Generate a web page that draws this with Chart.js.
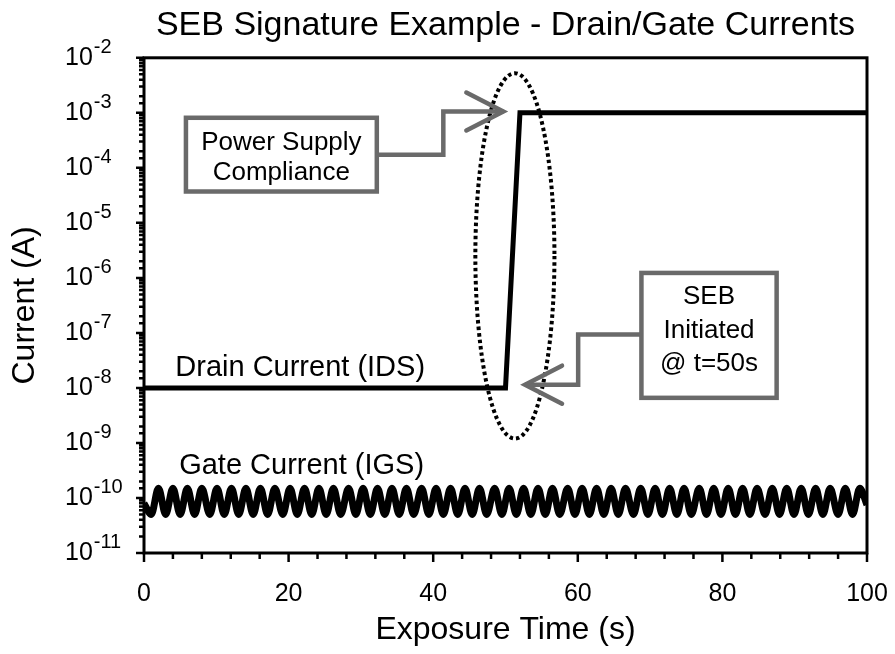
<!DOCTYPE html>
<html lang="en">
<head>
<meta charset="utf-8" />
<title>SEB Signature Example - Drain/Gate Currents</title>
<script src="https://cdn.jsdelivr.net/npm/chart.js@4.4.1/dist/chart.umd.min.js"></script>
<style>
  html, body { margin: 0; padding: 0; background: #fff; }
  canvas { display: block; }
</style>
</head>
<body>
<canvas id="sebChart" width="895" height="654"></canvas>
<script>
// drain current: flat leakage, then the burnout step up to the supply limit
const drainTime = [0, 50, 52, 100];
const drainCurrent = [1e-8, 1e-8, 1e-3, 1e-3];

// gate current: small oscillation around 1e-10 A
const gateTime = [
  0,
  1.0, 2.0, 3.0, 4.0, 5.0, 6.0, 7.0, 8.0, 9.1, 10.1,
  11.1, 12.1, 13.1, 14.1, 15.1, 16.1, 17.1, 18.1, 19.2, 20.2,
  21.2, 22.2, 23.2, 24.2, 25.2, 26.2, 27.2, 28.3, 29.3, 30.3,
  31.3, 32.3, 33.3, 34.3, 35.3, 36.3, 37.3, 38.4, 39.4, 40.4,
  41.4, 42.4, 43.4, 44.4, 45.4, 46.4, 47.4, 48.5, 49.5, 50.5,
  51.5, 52.5, 53.5, 54.5, 55.5, 56.5, 57.5, 58.6, 59.6, 60.6,
  61.6, 62.6, 63.6, 64.6, 65.6, 66.6, 67.7, 68.7, 69.7, 70.7,
  71.7, 72.7, 73.7, 74.7, 75.7, 76.8, 77.8, 78.8, 79.8, 80.8,
  81.8, 82.8, 83.8, 84.8, 85.9, 86.9, 87.9, 88.9, 89.9, 90.9,
  91.9, 92.9, 93.9, 94.9, 96.0, 97.0, 98.0, 99.0,
  100
];
const gateCurrent = [
  8e-11,
  5e-11, 1.5e-10, 5e-11, 1.5e-10, 5e-11, 1.5e-10, 5e-11, 1.5e-10, 5e-11, 1.5e-10,
  5e-11, 1.5e-10, 5e-11, 1.5e-10, 5e-11, 1.5e-10, 5e-11, 1.5e-10, 5e-11, 1.5e-10,
  5e-11, 1.5e-10, 5e-11, 1.5e-10, 5e-11, 1.5e-10, 5e-11, 1.5e-10, 5e-11, 1.5e-10,
  5e-11, 1.5e-10, 5e-11, 1.5e-10, 5e-11, 1.5e-10, 5e-11, 1.5e-10, 5e-11, 1.5e-10,
  5e-11, 1.5e-10, 5e-11, 1.5e-10, 5e-11, 1.5e-10, 5e-11, 1.5e-10, 5e-11, 1.5e-10,
  5e-11, 1.5e-10, 5e-11, 1.5e-10, 5e-11, 1.5e-10, 5e-11, 1.5e-10, 5e-11, 1.5e-10,
  5e-11, 1.5e-10, 5e-11, 1.5e-10, 5e-11, 1.5e-10, 5e-11, 1.5e-10, 5e-11, 1.5e-10,
  5e-11, 1.5e-10, 5e-11, 1.5e-10, 5e-11, 1.5e-10, 5e-11, 1.5e-10, 5e-11, 1.5e-10,
  5e-11, 1.5e-10, 5e-11, 1.5e-10, 5e-11, 1.5e-10, 5e-11, 1.5e-10, 5e-11, 1.5e-10,
  5e-11, 1.5e-10, 5e-11, 1.5e-10, 5e-11, 1.5e-10, 5e-11, 1.5e-10,
  7.5e-11
];

const xLabelTicks = [0, 20, 40, 60, 80, 100];
const yExponents = [-2, -3, -4, -5, -6, -7, -8, -9, -10, -11];

const FONT = "'Liberation Sans', Arial, Helvetica, sans-serif";
const GREY = '#6a6a6a';

// callouts, positioned in data units (x in s, y as log10 of A)
const callouts = [
  {
    lines: ['Power Supply', 'Compliance'],
    box: [5.8, 32.2, -3.09, -4.43],
    path: [[32.2, -3.76], [41.4, -3.76], [41.4, -2.976], [49.7, -2.976]],
    gap: 30, shift: 3
  },
  {
    lines: ['SEB', 'Initiated', '@ t=50s'],
    box: [68.8, 87.5, -5.91, -8.18],
    path: [[68.8, -7.03], [60.05, -7.03], [60.05, -7.94], [52.7, -7.94]],
    gap: 33.7, shift: -5
  }
];
const seriesLabels = [[21.6, -7.633], [21.8, -9.414]];
const ring = { x: 51.3, ly: -5.6, rx: 5.47, ry: 3.32 };

const pts = (xs, ys) => xs.map((t, i) => ({ x: t, y: ys[i] }));

const axesPlugin = {
  id: 'axesPlugin',
  afterDatasetsDraw(chart) {
    const { ctx, chartArea: a, scales: { x, y } } = chart;
    ctx.save();
    ctx.strokeStyle = '#000';
    ctx.lineWidth = 3;
    ctx.strokeRect(a.left, a.top, a.right - a.left, a.bottom - a.top);

    ctx.lineWidth = 2.5;
    ctx.beginPath();
    y.ticks.forEach(t => {
      const v = t.value;
      const m = v / Math.pow(10, Math.floor(Math.log10(v) + 1e-9));
      const len = Math.abs(m - 1) < 0.01 ? 8 : 5;
      const p = y.getPixelForValue(v);
      ctx.moveTo(a.left - len, p);
      ctx.lineTo(a.left, p);
    });
    x.ticks.forEach(t => {
      const len = xLabelTicks.includes(t.value) ? 9 : 6;
      const p = x.getPixelForValue(t.value);
      ctx.moveTo(p, a.bottom);
      ctx.lineTo(p, a.bottom + len);
    });
    ctx.stroke();

    // decade labels with superscript exponent
    ctx.fillStyle = '#000';
    ctx.textAlign = 'left';
    ctx.textBaseline = 'alphabetic';
    yExponents.forEach(e => {
      const p = y.getPixelForValue(Math.pow(10, e));
      const lx = a.left - 79;
      ctx.font = '25px ' + FONT;
      ctx.fillText('10', lx, p + 7);
      const w = ctx.measureText('10').width;
      ctx.font = '20px ' + FONT;
      ctx.fillText(String(e), lx + w + 1, p - 5);
    });
    ctx.restore();
  }
};

const notesPlugin = {
  id: 'notesPlugin',
  afterDraw(chart) {
    const { ctx, scales: { x, y } } = chart;
    const px = v => x.getPixelForValue(v);
    const py = e => y.getPixelForValue(Math.pow(10, e));
    ctx.save();

    // dotted ring around the breakdown step
    const cx = px(ring.x), cy = py(ring.ly);
    ctx.setLineDash([3.5, 3]);
    ctx.lineWidth = 4;
    ctx.strokeStyle = '#000';
    ctx.beginPath();
    ctx.ellipse(cx, cy, px(ring.x + ring.rx) - cx, cy - py(ring.ly + ring.ry), 0, 0, Math.PI * 2);
    ctx.stroke();
    ctx.setLineDash([]);

    // series names
    ctx.fillStyle = '#000';
    ctx.font = '29px ' + FONT;
    ctx.textAlign = 'center';
    ctx.textBaseline = 'middle';
    chart.data.datasets.forEach((ds, i) => {
      ctx.fillText(ds.label, px(seriesLabels[i][0]), py(seriesLabels[i][1]));
    });

    // callout boxes with elbow arrows
    callouts.forEach(c => {
      const [x0, x1, y0, y1] = c.box;
      const L = px(x0), R = px(x1), T = py(y0), B = py(y1);
      ctx.strokeStyle = GREY;
      ctx.lineWidth = 4.5;
      ctx.lineJoin = 'miter';
      ctx.lineCap = 'butt';
      ctx.beginPath();
      c.path.forEach(([u, v], k) => {
        const X = px(u), Y = py(v);
        if (k === 0) ctx.moveTo(X, Y); else ctx.lineTo(X, Y);
      });
      ctx.stroke();

      const [ux, uy] = c.path[c.path.length - 2];
      const [tx, ty] = c.path[c.path.length - 1];
      const TX = px(tx), TY = py(ty);
      const dx = TX - px(ux), dy = TY - py(uy);
      const d = Math.hypot(dx, dy);
      const ex = dx / d, ey = dy / d;
      ctx.lineCap = 'round';
      ctx.beginPath();
      ctx.moveTo(TX - ex * 37 - ey * 19, TY - ey * 37 + ex * 19);
      ctx.lineTo(TX, TY);
      ctx.lineTo(TX - ex * 37 + ey * 19, TY - ey * 37 - ex * 19);
      ctx.stroke();

      ctx.fillStyle = '#fff';
      ctx.fillRect(L, T, R - L, B - T);
      ctx.lineCap = 'butt';
      ctx.strokeRect(L, T, R - L, B - T);

      ctx.fillStyle = '#000';
      ctx.font = '26px ' + FONT;
      const mid = (T + B) / 2 + c.shift;
      c.lines.forEach((s, k) => {
        ctx.fillText(s, (L + R) / 2, mid + (k - (c.lines.length - 1) / 2) * c.gap);
      });
    });
    ctx.restore();
  }
};

new Chart(document.getElementById('sebChart'), {
  type: 'line',
  data: {
    datasets: [
      {
        label: 'Drain Current (IDS)',
        data: pts(drainTime, drainCurrent),
        borderColor: '#000',
        borderWidth: 5,
        pointRadius: 0,
        tension: 0
      },
      {
        label: 'Gate Current (IGS)',
        data: pts(gateTime, gateCurrent),
        borderColor: '#000',
        borderWidth: 7,
        borderJoinStyle: 'round',
        pointRadius: 0,
        cubicInterpolationMode: 'monotone'
      }
    ]
  },
  options: {
    responsive: false,
    animation: false,
    layout: { padding: { left: 0, right: 28, top: 0, bottom: 0 } },
    plugins: {
      legend: { display: false },
      tooltip: { enabled: false },
      title: {
        display: true,
        text: 'SEB Signature Example - Drain/Gate Currents',
        fullSize: false,
        color: '#000',
        font: { family: FONT, size: 34, weight: 'normal' },
        padding: { top: 5, bottom: 12 }
      }
    },
    scales: {
      x: {
        type: 'linear',
        min: 0,
        max: 100,
        grid: { display: false },
        border: { display: false },
        ticks: {
          stepSize: 4,
          autoSkip: false,
          maxRotation: 0,
          color: '#000',
          padding: 18,
          font: { family: FONT, size: 25 },
          callback: v => (xLabelTicks.includes(v) ? String(v) : '')
        },
        title: {
          display: true,
          text: 'Exposure Time (s)',
          color: '#000',
          font: { family: FONT, size: 32 },
          padding: { top: 0, bottom: 5 }
        },
        afterFit: s => {
          s.height = 101;
          s.paddingLeft = 0;
          s.paddingRight = 0;
        }
      },
      y: {
        type: 'logarithmic',
        min: 1e-11,
        max: 1e-2,
        grid: { display: false },
        border: { display: false },
        ticks: { display: false },
        title: {
          display: true,
          text: 'Current (A)',
          color: '#000',
          font: { family: FONT, size: 32 },
          padding: { top: 6, bottom: 0 }
        },
        afterFit: s => { s.width = 144; }
      }
    }
  },
  plugins: [axesPlugin, notesPlugin]
});
</script>
</body>
</html>
